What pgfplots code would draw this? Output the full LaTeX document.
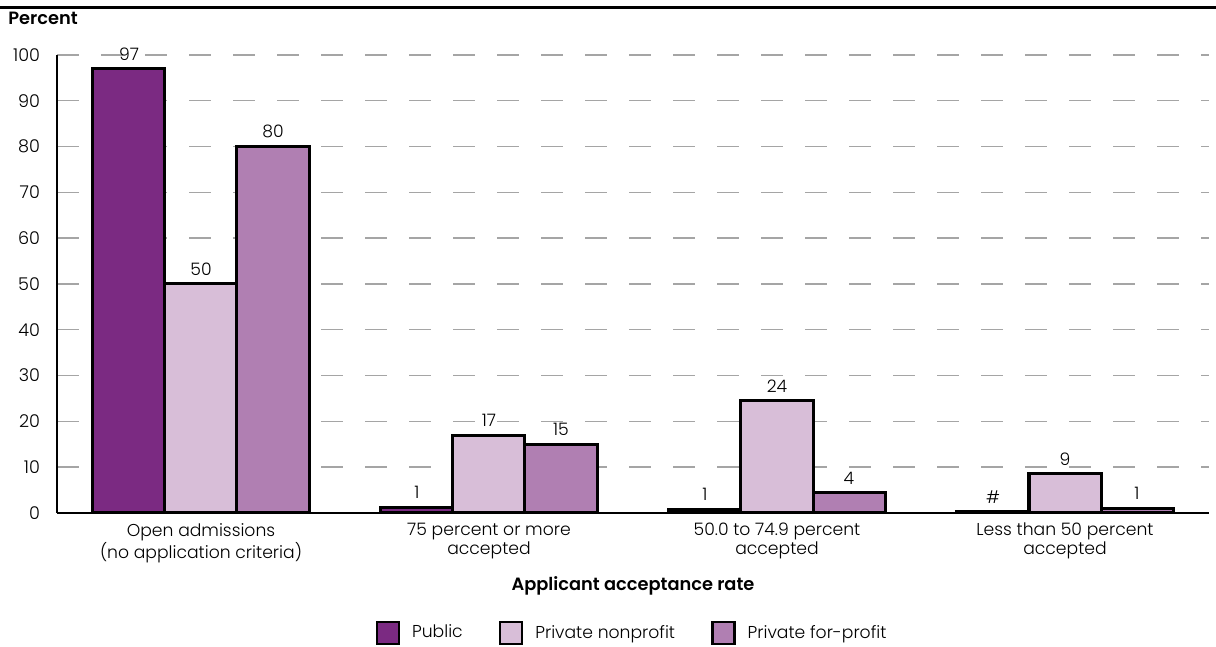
\documentclass[border=0pt]{standalone}
\usepackage{pgfplots}
\pgfplotsset{compat=1.18}
\usepackage{fontspec}
\setmainfont{Poppins}[UprightFont=* Light, BoldFont=* SemiBold]
\definecolor{cpub}{RGB}{123,42,130}
\definecolor{cnp}{RGB}{216,190,216}
\definecolor{cfp}{RGB}{176,127,178}
\definecolor{cgrid}{RGB}{165,165,165}
\begin{document}
\begin{tikzpicture}
\begin{axis}[
  at={(0,0)}, anchor=south west,
  scale only axis, width=576pt, height=229pt,
  xmin=-0.5, xmax=3.5, ymin=0, ymax=100,
  axis x line=bottom, axis y line=left,
  axis line style={-, black, line width=1pt},
  ytick={0,10,...,100},
  xtick={0,1,2,3},
  xticklabels={{Open admissions\\(no application criteria)},{75 percent or more\\accepted},{50.0 to 74.9 percent\\accepted},{Less than 50 percent\\accepted}},
  xticklabel style={align=center, font=\fontsize{8.6pt}{9.6pt}\selectfont, yshift=-1.5pt},
  yticklabel style={font=\fontsize{8.8pt}{9pt}\selectfont, xshift=-5pt},
  /pgf/number format/assume math mode=true,
  major tick length=0pt,
  ymajorgrids, grid style={cgrid, line width=0.7pt, dash pattern=on 11pt off 11pt},
  ybar=0pt, bar width=36pt,
  xlabel={\bfseries Applicant acceptance rate},
  every axis x label/.style={at={(axis description cs:0.5,-0.159)}, anchor=center, font=\fontsize{8.9pt}{9pt}\selectfont},
  nodes near coords, point meta=explicit symbolic,
  every node near coord/.append style={font=\fontsize{8.6pt}{9pt}\selectfont, black, inner sep=2pt, yshift=1.5pt},
  legend style={at={(axis description cs:0.5,-0.262)}, anchor=center, draw=none, legend columns=3, font=\fontsize{8.6pt}{9pt}\selectfont, /tikz/every even column/.append style={column sep=16pt}, /tikz/every odd column/.append style={column sep=4pt}},
  legend image code/.code={\draw[#1, line width=1.3pt] (0pt,-5.5pt) rectangle (11pt,5.5pt);},
]
\addplot[fill=cpub, draw=black, line width=1.5pt] coordinates {(0,97) [97] (1,1.3) [1] (2,0.8) [1] (3,0.3) [\#]};
\addplot[fill=cnp, draw=black, line width=1.5pt] coordinates {(0,50) [50] (1,17) [17] (2,24.5) [24] (3,8.6) [9]};
\addplot[fill=cfp, draw=black, line width=1.5pt] coordinates {(0,80) [80] (1,15) [15] (2,4.4) [4] (3,1.0) [1]};
\legend{Public, Private nonprofit, Private for-profit}
\end{axis}
\node[anchor=west, inner sep=0pt, font=\fontsize{8.9pt}{9pt}\selectfont\bfseries] at (-24.5pt,247.5pt) {Percent};
\draw[black, line width=1.5pt] (-28.5pt,252.5pt) -- (579.5pt,252.5pt);
\pgfresetboundingbox
\path[use as bounding box] (-28.5pt,-67pt) rectangle (579.5pt,256.5pt);
\end{tikzpicture}
\end{document}
